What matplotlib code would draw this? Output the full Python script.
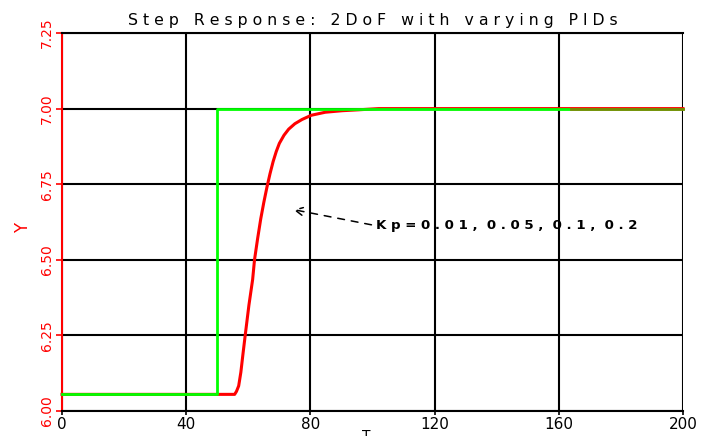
import matplotlib
matplotlib.use("Agg")
import matplotlib.pyplot as plt

# Data
setpoint_t = [0, 50, 50, 200]
setpoint_y = [6.055, 6.055, 7.00, 7.00]

resp_t = [0, 55.6, 56.2, 56.9, 57.6, 58.3, 59.0, 60.2, 61.4, 62.0, 63.0, 64.0, 65.0, 66.0, 67.0,
          68.0, 69.0, 70.0, 71.5, 73.0, 75.0, 77.3, 80.3, 84.8, 90.2, 95.5, 102, 164, 200]
resp_y = [6.055, 6.055, 6.065, 6.083, 6.128, 6.19, 6.25, 6.35, 6.435, 6.50, 6.57, 6.635, 6.69, 6.74, 6.785,
          6.825, 6.858, 6.885, 6.912, 6.932, 6.950, 6.964, 6.978, 6.988, 6.993, 6.996, 7.00, 7.00, 7.00]
overlap_start = 164

xticks = [0, 40, 80, 120, 160, 200]
yticks = [6.00, 6.25, 6.50, 6.75, 7.00, 7.25]
ytick_labels = ["6.00", "6.25", "6.50", "6.75", "7.00", "7.25"]

title = "Step Response: 2DoF with varying PIDs"
annot = "Kp = 0.01, 0.05, 0.1, 0.2"

fig = plt.figure(figsize=(7.22, 4.36), dpi=100)
ax = fig.add_axes([62 / 722, 1 - 411 / 436, (683 - 62) / 722, (411 - 33) / 436])

ax.set_xlim(0, 200)
ax.set_ylim(6.0, 7.25)
ax.set_xticks(xticks)
ax.set_yticks(yticks)
ax.set_yticklabels(ytick_labels, rotation=90, va="center", color="red", fontsize=10)
ax.set_xticklabels([str(v) for v in xticks], fontsize=11)
ax.grid(True, color="black", linewidth=1.5)
ax.set_axisbelow(True)

ax.tick_params(axis="y", colors="red", length=4, width=1.2, pad=2)
ax.tick_params(axis="x", colors="black", length=3, width=1.2, pad=1)
for lbl in ax.get_xticklabels():
    lbl.set_color("black")

ax.spines["left"].set_color("red")
ax.spines["left"].set_linewidth(1.5)
ax.spines["bottom"].set_color("black")
ax.spines["bottom"].set_linewidth(1.5)
ax.spines["top"].set_color("black")
ax.spines["top"].set_linewidth(1.5)
ax.spines["right"].set_visible(False)

ax.plot(resp_t, resp_y, color="red", linewidth=2.2, zorder=3, clip_on=False)
ax.plot(setpoint_t, setpoint_y, color="#00ff00", linewidth=2, zorder=4, clip_on=False)
# overlapping tail where red is drawn over green
tail_t = [t for t in resp_t if t >= overlap_start]
tail_y = [y for t, y in zip(resp_t, resp_y) if t >= overlap_start]
ax.plot(tail_t, tail_y, color="red", alpha=0.45, linewidth=2, zorder=5, clip_on=False)

ax.set_title(" ".join(title), fontsize=11.3, pad=6)

annot_text = " ".join(annot.replace(" ", "")).replace(", ", ",  ")
ax.annotate(annot_text, xy=(74.5, 6.666), xytext=(101, 6.613),
            fontsize=9.6, fontweight="bold", va="center", ha="left",
            arrowprops=dict(arrowstyle="->", linestyle=(0, (4.5, 4.5)), color="black",
                            linewidth=1.1, shrinkA=1, shrinkB=0, mutation_scale=14,
                            relpos=(0, 0.5)))

fig.text(23 / 722, 1 - 228 / 436, "Y", rotation=90, color="red", ha="center", va="center",
         fontsize=12)
fig.text(366 / 722, 1 - 429 / 436, "T", color="black", ha="center", va="top", fontsize=10)

fig.savefig("out.png", dpi=100)
